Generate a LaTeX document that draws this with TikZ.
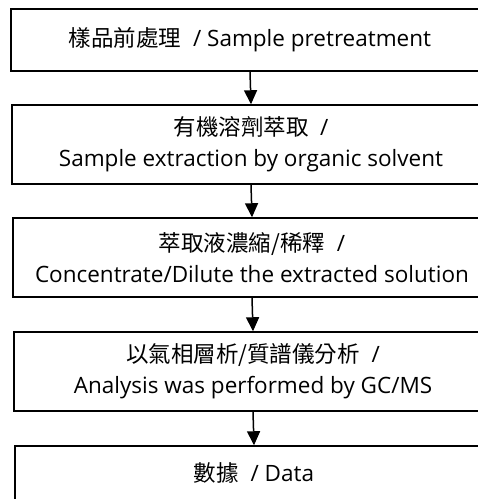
\documentclass[tikz,border=0pt]{standalone}
\usepackage{fontspec}
\setmainfont{Open Sans}
\newfontfamily\cjk{Noto Sans CJK TC}
\usepackage{tikz}
\usetikzlibrary{arrows.meta,positioning}

\tikzset{
    stepbox/.style={draw,line width=1.5pt,minimum width=478pt,minimum height=79pt,align=center,inner sep=0pt,font=\fontsize{22.5}{31}\selectfont},
    flow/.style={line width=1.5pt,-{Triangle[width=13pt,length=14pt]}}
}

\begin{document}
\begin{tikzpicture}[x=1pt,y=-1pt]
        \useasboundingbox (0,0) rectangle (478,499);
        \clip (0,0) rectangle (478,499);

        % Steps
        \node[stepbox,minimum height=62pt] (pre) at (250,40) {{\cjk 樣品前處理}\ \ / Sample pretreatment};
        \node[stepbox] (ext) at (251,144.5) {{\cjk 有機溶劑萃取}\ \ /\\Sample extraction by organic solvent};
        \node[stepbox] (con) at (252,257.5) {{\cjk 萃取液濃縮/稀釋}\ \ /\\Concentrate/Dilute the extracted solution};
        \node[stepbox] (gcms) at (253,371.5) {{\cjk 以氣相層析/質譜儀分析}\ \ /\\Analysis was performed by GC/MS};
        \node[stepbox,minimum height=90pt,text depth=38pt] (data) at (254,491) {{\cjk 數據}\ \ / Data};

        % Arrows
        \draw[flow] (pre.south) -- (ext.north);
        \draw[flow] (ext.south) -- (con.north);
        \draw[flow] (con.south) -- (gcms.north);
        \draw[flow] (gcms.south) -- (data.north);
\end{tikzpicture}
\end{document}
